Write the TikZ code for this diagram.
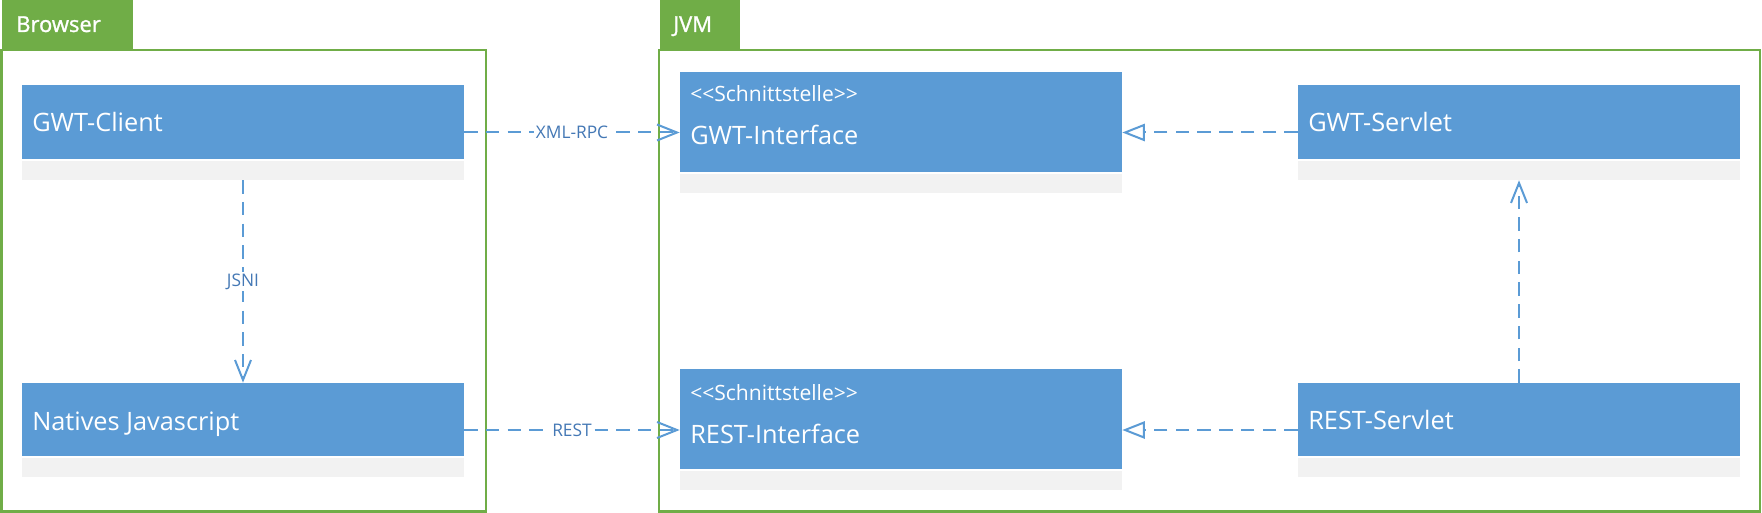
\documentclass[tikz,border=0pt]{standalone}
\usepackage{fontspec}
\setmainfont{Open Sans}[Ligatures=TeXOff]
\newfontfamily\tabfont{Open Sans}[Ligatures=TeXOff,FakeBold=1.2]
\usetikzlibrary{arrows.meta}
\definecolor{umlblue}{HTML}{5B9BD5}
\definecolor{umlgray}{HTML}{F2F2F2}
\definecolor{framegreen}{HTML}{70AD47}
\definecolor{labelblue}{HTML}{4478B5}
\tikzset{
  frame/.style={draw=framegreen, line width=1.9pt, inner sep=0},
  tab/.style={fill=framegreen, inner sep=0},
  tabtext/.style={anchor=base west, text=white, inner sep=0, font=\tabfont\fontsize{16.5}{20}\selectfont},
  classbox/.style={fill=white, inner sep=0, minimum width=331.5pt,
    path picture={
      \fill[umlblue] (path picture bounding box.north west) rectangle ([yshift=15.75pt]path picture bounding box.south east);
      \fill[umlgray] ([yshift=14.25pt]path picture bounding box.south west) rectangle (path picture bounding box.south east);
    }},
  ctext/.style={anchor=base west, text=white, inner sep=0, font=\fontsize{19}{23}\selectfont},
  stereo/.style={anchor=base west, text=white, inner sep=0, font=\fontsize{15.8}{18}\selectfont},
  conn/.style={draw=umlblue, line width=1.5pt, dash pattern=on 10pt off 6.3pt},
  elabel/.style={fill=white, text=labelblue, inner sep=1.5pt, font=\fontsize{13}{15}\selectfont},
  openhead/.style={-{Straight Barb[length=15pt,width=12pt]}},
  realize/.style={-{Triangle[open,length=17pt,width=13pt,fill=white]}}
}
\begin{document}
\begin{tikzpicture}[x=0.75pt,y=-0.75pt]
\useasboundingbox (0,0) rectangle (1762,513);
% containers
\node[frame, minimum width=363.4pt, minimum height=346.1pt] (browser) at (243.75,280.75) {};
\node[tab, minimum width=98.25pt, minimum height=36.75pt] (browsertab) at (67.5,24.5) {};
\node[tabtext] (browserlbl) at (16,32) {Browser};
\node[frame, minimum width=825.75pt, minimum height=346.1pt] (jvm) at (1209.5,280.75) {};
\node[tab, minimum width=60pt, minimum height=36.75pt] (jvmtab) at (700,24.5) {};
\node[tabtext] (jvmlbl) at (673,32) {JVM};
% classes
\node[classbox, minimum height=71.25pt] (gwtc) at (243,132.5) {};
\node[ctext] (gwtct) at (32,132) {GWT-Client};
\node[classbox, minimum height=70.5pt] (nat) at (243,430) {};
\node[ctext] (natt) at (32,430) {Natives Javascript};
\node[classbox, minimum height=90.75pt] (gwti) at (901,132.5) {};
\node[stereo] (gwtis) at (690,102) {<\kern0pt<Schnittstelle>\kern0pt>};
\node[ctext] (gwtit) at (690,145) {GWT-Interface};
\node[classbox, minimum height=90.75pt] (resti) at (901,429.5) {};
\node[stereo] (restis) at (690,400) {<\kern0pt<Schnittstelle>\kern0pt>};
\node[ctext] (restit) at (690,443) {REST-Interface};
\node[classbox, minimum height=71.25pt] (gwts) at (1519,132.5) {};
\node[ctext] (gwtst) at (1308,132) {GWT-Servlet};
\node[classbox, minimum height=70.5pt] (rests) at (1519,430) {};
\node[ctext] (restst) at (1308,429) {REST-Servlet};
% connectors
\draw[conn, openhead] (gwtc) -- node[elabel] (lxml) {XML-RPC} (gwti);
\draw[conn, openhead] (nat) -- node[elabel] (lrest) {REST} (nat -| resti.west);
\draw[conn, openhead] (gwtc) -- node[elabel] (ljsni) {JSNI} (nat);
\draw[conn, realize] (gwts) -- (gwti);
\draw[conn, realize] (rests) -- (rests -| resti.east);
\draw[conn, openhead] (rests) -- (gwts);
\end{tikzpicture}
\end{document}
